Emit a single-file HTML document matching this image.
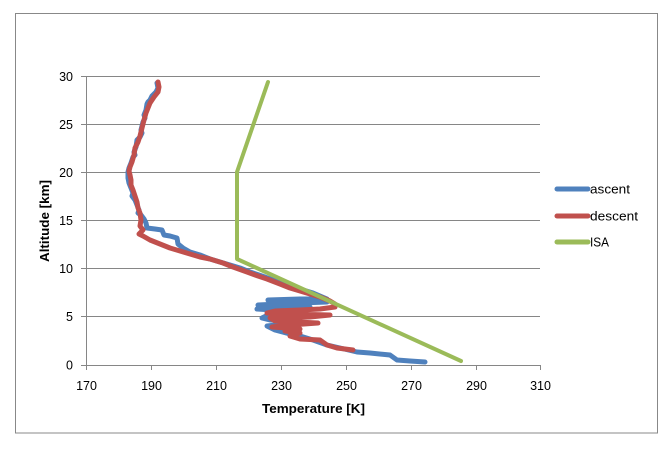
<!DOCTYPE html>
<html>
<head>
<meta charset="utf-8">
<style>
html,body{margin:0;padding:0;background:#fff;}
svg{display:block;}
text{font-family:"Liberation Sans",sans-serif;fill:#000;}
</style>
</head>
<body>
<svg width="670" height="456" viewBox="0 0 670 456" xmlns="http://www.w3.org/2000/svg">
<rect x="0" y="0" width="670" height="456" fill="#fff"/>
<rect x="15.5" y="13.5" width="642" height="419.5" fill="none" stroke="#888" stroke-width="1"/>
<!-- gridlines -->
<g stroke="#868686" stroke-width="1">
<line x1="86" y1="76.5" x2="540" y2="76.5"/>
<line x1="86" y1="124.5" x2="540" y2="124.5"/>
<line x1="86" y1="172.5" x2="540" y2="172.5"/>
<line x1="86" y1="220.5" x2="540" y2="220.5"/>
<line x1="86" y1="268.5" x2="540" y2="268.5"/>
<line x1="86" y1="316.5" x2="540" y2="316.5"/>
<line x1="81" y1="365.5" x2="541" y2="365.5"/>
<line x1="86.5" y1="76" x2="86.5" y2="370"/>
<line x1="81" y1="76.5" x2="86" y2="76.5"/>
<line x1="81" y1="124.5" x2="86" y2="124.5"/>
<line x1="81" y1="172.5" x2="86" y2="172.5"/>
<line x1="81" y1="220.5" x2="86" y2="220.5"/>
<line x1="81" y1="268.5" x2="86" y2="268.5"/>
<line x1="81" y1="316.5" x2="86" y2="316.5"/>
<line x1="151.5" y1="365" x2="151.5" y2="370"/>
<line x1="216.5" y1="365" x2="216.5" y2="370"/>
<line x1="281.5" y1="365" x2="281.5" y2="370"/>
<line x1="346.5" y1="365" x2="346.5" y2="370"/>
<line x1="411.5" y1="365" x2="411.5" y2="370"/>
<line x1="476.5" y1="365" x2="476.5" y2="370"/>
<line x1="540.5" y1="365" x2="540.5" y2="370"/>
</g>
<g font-size="12.5" text-anchor="end">
<text x="73" y="81">30</text>
<text x="73" y="129">25</text>
<text x="73" y="177">20</text>
<text x="73" y="225">15</text>
<text x="73" y="273">10</text>
<text x="73" y="321">5</text>
<text x="73" y="369.5">0</text>
</g>
<g font-size="12.5" text-anchor="middle">
<text x="86.5" y="390">170</text>
<text x="151.5" y="390">190</text>
<text x="216.5" y="390">210</text>
<text x="281.5" y="390">230</text>
<text x="346.5" y="390">250</text>
<text x="411.5" y="390">270</text>
<text x="476.5" y="390">290</text>
<text x="540.5" y="390">310</text>
</g>
<text x="262" y="413" font-size="13" font-weight="bold" textLength="103" lengthAdjust="spacingAndGlyphs">Temperature [K]</text>
<text transform="translate(49,221) rotate(-90)" font-size="13" font-weight="bold" text-anchor="middle" textLength="82" lengthAdjust="spacingAndGlyphs">Altitude [km]</text>

<!-- ascent -->
<polyline fill="none" stroke="#4f81bd" stroke-width="5" stroke-linejoin="round" stroke-linecap="round"
points="157,83 158,88 156,92 152,96 150,100 148,102 147,104 146,110 144,115 145,118 143,122 141,130 142,133 140,137 137,140 136,147 134,152 135,155 133,157 131,163 129,168 128,172 128,178 129,183 131,188 133,193 132,196 135,200 137,205 139,210 138,213 141,215 144,219 146,223 147,228 155,229 162,230 164,235 170,236 177,238 178,244 183,248 190,252 200,255 210,259 220,262 230,265 240,268 250,272 262,276 273,280 283,284 293,287 303,290 313,293 320,296 327,299 300,299 268,300 280,301 327,302 300,303 258,305 300,306 310,307 270,308 257,309 290,311 300,312 270,314 262,318 270,320 300,321 285,324 267,326 275,330 290,334 300,336 313,340 327,345 340,348 357,352 370,353 390,355 397,360 410,361 425,362"/>
<!-- descent -->
<polyline fill="none" stroke="#c0504d" stroke-width="5" stroke-linejoin="round" stroke-linecap="round"
points="158,82 159,87 158,92 154,97 150,103 148,108 146,113 144,120 142,128 140,136 138,142 135,148 134,155 132,162 130,167 129,171 130,175 131,180 131,185 133,190 135,196 137,202 138,208 140,213 141,220 140,226 143,230 139,234 143,236 150,240 160,244 170,248 180,251 190,254 200,257 210,259 223,263 233,267 247,272 258,276 267,279 280,284 290,288 300,291 310,294 320,297 330,301 335,304 335,307 320,309 300,310 275,311 267,313 290,314 330,315 310,317 270,318 275,321 318,323 290,325 272,327 300,329 285,331 300,333 290,336 300,339 320,340 327,345 337,348 353,350"/>
<!-- ISA -->
<polyline fill="none" stroke="#9bbb59" stroke-width="4" stroke-linejoin="round" stroke-linecap="round"
points="461,361 237,259 237,172 268,82"/>

<!-- legend -->
<line x1="557" y1="189" x2="588" y2="189" stroke="#4f81bd" stroke-width="5" stroke-linecap="round"/>
<line x1="557" y1="216" x2="588" y2="216" stroke="#c0504d" stroke-width="5" stroke-linecap="round"/>
<line x1="557" y1="242" x2="588" y2="242" stroke="#9bbb59" stroke-width="5" stroke-linecap="round"/>
<g font-size="12.5">
<text x="590" y="193.5" textLength="40" lengthAdjust="spacingAndGlyphs">ascent</text>
<text x="590" y="220.5" textLength="48" lengthAdjust="spacingAndGlyphs">descent</text>
<text x="590" y="246.5" textLength="19" lengthAdjust="spacingAndGlyphs">ISA</text>
</g>
</svg>
</body>
</html>
